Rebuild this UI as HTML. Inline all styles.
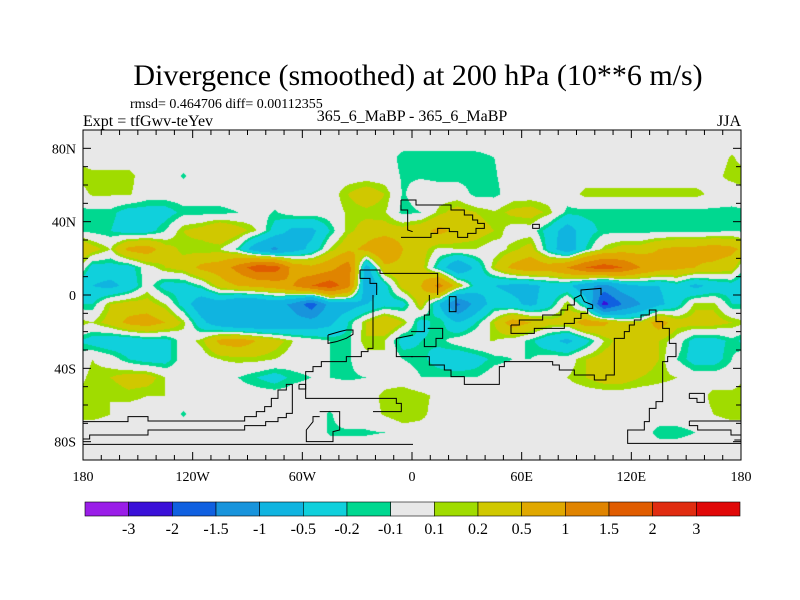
<!DOCTYPE html>
<html><head><meta charset="utf-8"><style>
body{margin:0;background:#fff;width:800px;height:600px;overflow:hidden;position:relative;font-family:"Liberation Serif",serif}
#c{position:absolute;left:83px;top:130px}
svg{position:absolute;left:0;top:0}
</style></head><body>
<canvas id="c" width="658" height="330"></canvas>
<svg id="s" width="800" height="600">
<text x="418" y="85" font-size="30" text-anchor="middle" font-family="Liberation Serif">Divergence (smoothed) at 200 hPa (10**6 m/s)</text>
<text x="130" y="108" font-size="14" font-family="Liberation Serif">rmsd= 0.464706 diff= 0.00112355</text>
<text x="83" y="126" font-size="16" font-family="Liberation Serif">Expt = tfGwv-teYev</text>
<text x="412" y="121" font-size="16" text-anchor="middle" font-family="Liberation Serif">365_6_MaBP - 365_6_MaBP</text>
<text x="741" y="126" font-size="16" text-anchor="end" font-family="Liberation Serif">JJA</text>
<g id="coast" fill="none" stroke="#000" stroke-width="1">
<g transform="translate(411,130) scale(0.33333)" stroke-width="3">
<polyline points="-30,210 15,210 15,225 120,225 120,240 160,240 160,255 185,255 185,270 200,270 200,280 220,280 220,295 195,295 195,310 170,310 170,322 140,322 140,305 115,305 115,295 80,295 80,310 60,310 60,322 0,322 -30,322"/>
<polyline points="-30,210 -30,240 -10,240 -10,300 5,305"/>
<rect x="365" y="283" width="20" height="12"/>
<polyline points="-153,420 -93,420 -93,430 0,430 80,430 80,495"/>
<polyline points="-153,420 -153,445 -123,445 -123,460 -103,460 -103,495"/>
<polyline points="510,495 510,480 570,475 570,495"/>
</g>
<g transform="translate(83,295) scale(0.33333)" stroke-width="3">
<polyline points="870,0 870,160 855,160 855,170 835,170 835,185 790,185 790,200 715,200 715,215 690,215 690,230 668,230 668,310 940,310 940,325 955,325 955,350 870,350"/>
<polyline points="735,120 770,110 790,105 810,105 810,118 790,130 760,140 735,145 735,120"/>
<polyline points="0,380 135,380 135,365 195,365 195,378 485,378 485,365 520,365 520,350 545,350 545,335 565,335 565,310 585,310 585,285 610,285 610,268 628,268 628,355 610,355 610,368 585,368 585,380 548,380 548,392 485,392 485,405 195,405 195,420 20,420 20,432 0,432"/>
<polyline points="0,448 990,448"/>
<polyline points="648,268 668,268 668,282 648,282 648,268"/>
<polyline points="710,350 770,350 770,405 750,410 750,440 670,440 670,405 690,380 690,365 710,365"/>
<polyline points="940,130 990,120"/><polyline points="940,130 940,185 990,185"/>
</g>
<g transform="translate(411,295) scale(0.33333)" stroke-width="3">
<polyline points="55,0 55,60 40,60 40,110 20,110 0,110"/>
<polyline points="50,100 95,100 95,130 75,130 75,155 40,155 40,130"/>
<polyline points="0,185 55,185 55,210 100,210 100,225 120,225 120,245 160,245 160,268 265,268 265,215 280,215 280,200 425,200 425,210 445,210 445,225 490,225 490,240 550,240 550,255 585,255 585,240 610,240 610,130 640,130 640,110 655,110 655,90 670,90 670,75 690,75 690,60 715,60 715,45 735,45 735,80 755,80 755,100 775,100 775,145 795,145 795,185 770,185 770,200 755,200 755,320 735,320 735,340 715,340 715,380 700,380 700,405 650,405 650,445 990,445"/>
<polyline points="300,90 300,115 370,115 370,100 460,100 460,85 490,85 490,70 510,70 510,55 530,55 530,40 545,40 545,30 520,20 510,0"/>
<polyline points="300,90 325,90 325,75 395,75 395,60 450,60 450,45 470,45 470,30 490,30 490,10 510,0"/>
<rect x="115" y="5" width="20" height="45"/>
<polyline points="835,295 880,295 880,322 858,322 858,310 835,310 835,295"/>
<polyline points="835,378 990,378"/><polyline points="835,378 835,392 860,392 860,405 960,405 960,420 990,420"/>
<polyline points="970,435 990,435"/>
</g>
</g>
<rect x="83" y="130" width="658" height="330" fill="none" stroke="#000" stroke-width="1"/>
<g id="ticks" stroke="#000" stroke-width="1"></g>
<g id="labels" font-size="14" font-family="Liberation Serif"></g>
<g id="cbar"></g>
</svg>
<script>
const levels=[-3,-2,-1.5,-1,-0.5,-0.2,-0.1,0.1,0.2,0.5,1,1.5,2,3];
const levelLabels=["-3","-2","-1.5","-1","-0.5","-0.2","-0.1","0.1","0.2","0.5","1","1.5","2","3"];
const colors=["#9a1ee8","#3a10d8","#1060e0","#1894dc","#10b4e0","#10d0dc","#00d890","#e8e8e8","#a0dc00","#d0c800","#e0a800","#e08400","#e05c00","#e02c10","#e00808"];
const lats=[85,75,65,55,45,35,25,15,5,-5,-15,-25,-35,-45,-55,-65,-75,-85];
const lons=[];for(let i=0;i<36;i++)lons.push(-175+10*i);
const row85=[0,0,0,0,0,0,0,0,0,0,0,0,0,0,0,0,0,0,0,0,0,0,0,0,0,0,0,0,0,0,0,0,0,0,0,0];
const row75=[0,0,0,0,0,0,0,0,0,0,0,0,0,0,0,0,0,-0.15,-0.15,-0.15,-0.15,-0.15,-0.1,0,0,0,0,0,0,0,0,0,0,0,0,0.12];
const row65=[0.15,0.15,0.15,0,0,-0.12,0,0,0,0,0,0,0,0,0,0,0,-0.12,-0.12,-0.15,-0.15,-0.15,-0.12,0,0,0,0,0,0,0,0,0,0,0,0.05,0.15];
const row55=[0.12,0.12,0.12,0,0,0,0,0,0,0,0,0,0,0,0.2,0.35,0.2,-0.12,0,0,0,-0.15,-0.15,0,0,0,0,0.15,0.15,0.15,0.15,0.15,0.15,0.15,0.05,0];
const row45=[-0.15,-0.15,-0.3,-0.3,-0.3,-0.15,-0.15,-0.15,-0.1,0,-0.12,0,0,0,0.12,0.15,0.12,-0.15,-0.1,0.15,0.3,0.2,0.12,0.25,0.3,0.15,-0.15,-0.15,-0.15,-0.15,-0.15,-0.15,-0.15,-0.15,-0.15,-0.15];
const row35=[-0.15,-0.2,-0.3,-0.3,-0.1,0.2,0.3,0.5,0.3,0.1,-0.3,-0.6,-0.6,-0.2,0.15,0.3,0.3,0.3,0.4,0.6,0.4,0.3,0.2,0,0,-0.3,-0.7,-0.3,-0.15,-0.15,-0.15,-0.15,-0.15,-0.15,-0.15,-0.1];
const row25=[0.3,0.1,0.6,0.7,0.3,0.15,0.1,0.1,-0.15,-0.8,-1.1,-0.7,-0.4,0.1,0.4,0.6,1.0,0.5,0.3,0.05,0.1,0.1,0,0.15,0.3,-0.3,-0.8,-0.2,0.15,0.3,0.3,0.5,0.6,0.6,0.7,0.6];
const row15=[-0.3,-0.3,-0.3,0,0.2,0.3,0.6,0.7,1.2,1.8,1.8,0.8,0.6,0.8,1.3,-0.7,0.4,0.4,0.3,-0.3,-0.9,-0.4,0.2,0.6,0.8,0.7,1.0,1.5,1.8,1.5,1.0,0.7,0.6,0.5,0.4,0.3];
const row5=[-0.5,-0.6,-0.4,0,-0.3,-0.3,-0.1,0.3,0.5,0.6,0.7,1.0,1.5,1.8,1.2,-0.9,-0.3,0.3,0.5,1.2,0.3,-0.3,-0.5,-0.6,-0.6,-0.4,-0.4,-0.8,-1.2,-0.7,-0.5,-0.5,-0.3,-0.6,-0.4,-0.3];
const rowS5=[-0.2,0.2,0.3,0.3,0.1,-0.3,-0.8,-0.7,-1.0,-1.0,-0.8,-1.1,-1.8,-0.8,-0.7,-0.5,-0.3,-0.3,0.3,-0.5,-1.6,-0.8,-0.3,-0.4,-0.6,-0.3,0.2,-0.3,-2.2,-1.5,-1.0,-0.6,-0.3,0.15,0.15,-0.2];
const rowS15=[0.1,0.3,0.6,0.7,0.5,0.15,-0.4,-0.8,-1.0,-1.0,-0.9,-0.8,-0.8,-0.6,-0.2,0.2,0.5,0.2,-0.3,-0.1,-0.5,-0.2,0.2,0.7,0.5,0.3,0.3,0.7,0.6,0.2,0.2,0.7,0.3,0.3,0.3,0.2];
const rowS25=[-0.3,-0.4,-0.4,-0.3,-0.3,0,0.15,0.6,0.7,0.5,0.3,0.1,0,-0.1,-0.15,0.2,0.1,-0.3,-0.2,-0.15,0,0.1,0.1,0,-0.15,-0.4,-0.6,-0.3,0.1,0.3,0.3,0.2,0,-0.3,-0.3,-0.15];
const rowS35=[0.1,0,-0.2,-0.3,-0.3,0,0,0.1,0.15,0.15,0.1,0,0,-0.1,-0.12,0,0.1,-0.1,-0.15,-0.3,-0.4,-0.3,-0.15,-0.1,-0.1,0,0,0.2,0.3,0.3,0.3,0.2,-0.1,-0.3,-0.3,-0.1];
const rowS45=[0.15,0.2,0.3,0.3,0.1,0.05,0,0,-0.1,-0.2,-0.3,-0.15,-0.1,-0.1,-0.12,-0.1,0,0,-0.1,-0.1,-0.1,-0.1,0,0,0,0,0.1,0.2,0.3,0.3,0.2,0.15,0.1,0,0,0];
const rowS55=[0.15,0.1,0.15,0.1,0.1,0,0,0,0,0,0,0,0,0,0,0,0.15,0.2,0.15,0.05,0,0,0,0,0,0,0,0,0,0,0,0,0,0,0.15,0.15];
const rowS65=[0.15,0.1,0,0,0,-0.12,0,0,0,0,0,0,0,-0.12,0,0,0.12,0.2,0.15,0,0,0,0,0,0,0,0,0,0,0,0,0,0,0,0.1,0.15];
const rowS75=[0,0,0,0,0,0,0,0,0,0,0,0,0,-0.12,-0.12,-0.12,-0.1,0,0,0,0,0,0,0,0,0,0,0,0,0,0,-0.15,-0.15,-0.1,0,0];
const rowS85=[0,0,0,0,0,0,0,0,0,0,0,0,0,0,0,0,0,0,0,0,0,0,0,0,0,0,0,0,0,0,0,0,0,0,0,0];
const grid=[row85,row75,row65,row55,row45,row35,row25,row15,row5,rowS5,rowS15,rowS25,rowS35,rowS45,rowS55,rowS65,rowS75,rowS85];

const W=658,H=330,X0=83,Y0=130;
const xScale=lon=>X0+(lon+180)*W/360;
const yScale=lat=>Y0+(90-lat)*H/180;
function hex(c){return[parseInt(c.slice(1,3),16),parseInt(c.slice(3,5),16),parseInt(c.slice(5,7),16)];}
const rgb=colors.map(hex);
const cv=document.getElementById('c'),ctx=cv.getContext('2d');
const img=ctx.createImageData(W,H);
const nr=lats.length,nc=lons.length;
for(let py=0;py<H;py++){
  const lat=90-(py+0.5)*180/H;
  let fr=(lats[0]-lat)/(lats[0]-lats[1]);
  fr=Math.max(0,Math.min(nr-1,fr));
  const r0=Math.floor(fr),r1=Math.min(nr-1,r0+1),ty=fr-r0;
  for(let px=0;px<W;px++){
    const lon=-180+(px+0.5)*360/W;
    let fc=(lon-lons[0])/(lons[1]-lons[0]);
    let c0=Math.floor(fc),tx=fc-c0;
    const c1=((c0+1)%nc+nc)%nc;c0=((c0%nc)+nc)%nc;
    const v=(grid[r0][c0]*(1-tx)+grid[r0][c1]*tx)*(1-ty)+(grid[r1][c0]*(1-tx)+grid[r1][c1]*tx)*ty;
    let k=0;while(k<levels.length&&v>=levels[k])k++;
    const c=rgb[k],i=(py*W+px)*4;
    img.data[i]=c[0];img.data[i+1]=c[1];img.data[i+2]=c[2];img.data[i+3]=255;
  }
}
ctx.putImageData(img,0,0);

const NS='http://www.w3.org/2000/svg';
function mk(tag,attrs,parent){const e=document.createElementNS(NS,tag);for(const k in attrs)e.setAttribute(k,attrs[k]);parent.appendChild(e);return e;}
const tk=document.getElementById('ticks'),lb=document.getElementById('labels');
const xTickVals=[-180,-120,-60,0,60,120,180];
const xTickLabels=["180","120W","60W","0","60E","120E","180"];
const yTickVals=[80,40,0,-40,-80];
const yTickLabels=["80N","40N","0","40S","80S"];
for(let lon=-170;lon<180;lon+=10){
  const x=xScale(lon),major=lon%60===0,len=major?8:5;
  const a=mk('line',{x1:x,y1:Y0,x2:x,y2:Y0+len},tk);
  
  
  const b=mk('line',{x1:x,y1:Y0+H,x2:x,y2:Y0+H-len},tk);
  
  
}
for(let lat=-80;lat<=80;lat+=10){
  const y=yScale(lat),major=lat%40===0,len=major?8:5;
  const a=mk('line',{x1:X0,y1:y,x2:X0+len,y2:y},tk);
  
  
  const b=mk('line',{x1:X0+W,y1:y,x2:X0+W-len,y2:y},tk);
  
  
}
xTickVals.forEach((v,i)=>{const t=mk('text',{x:xScale(v),y:481,'text-anchor':'middle'},lb);t.textContent=xTickLabels[i];

});
yTickVals.forEach((v,i)=>{const t=mk('text',{x:76,y:yScale(v)+5,'text-anchor':'end'},lb);t.textContent=yTickLabels[i];

});
const cb=document.getElementById('cbar');
const cbX=85,cbW=655,cbY=502,cbH=14,bw=cbW/colors.length;
colors.forEach((c,i)=>{const r=mk('rect',{x:cbX+i*bw,y:cbY,width:bw,height:cbH,fill:c,stroke:'#000','stroke-width':0.6},cb);

});
levelLabels.forEach((s,i)=>{const t=mk('text',{x:cbX+(i+1)*bw,y:534,'text-anchor':'middle','font-size':16,'font-family':'Liberation Serif'},cb);t.textContent=s;

});
</script>
</body></html>
